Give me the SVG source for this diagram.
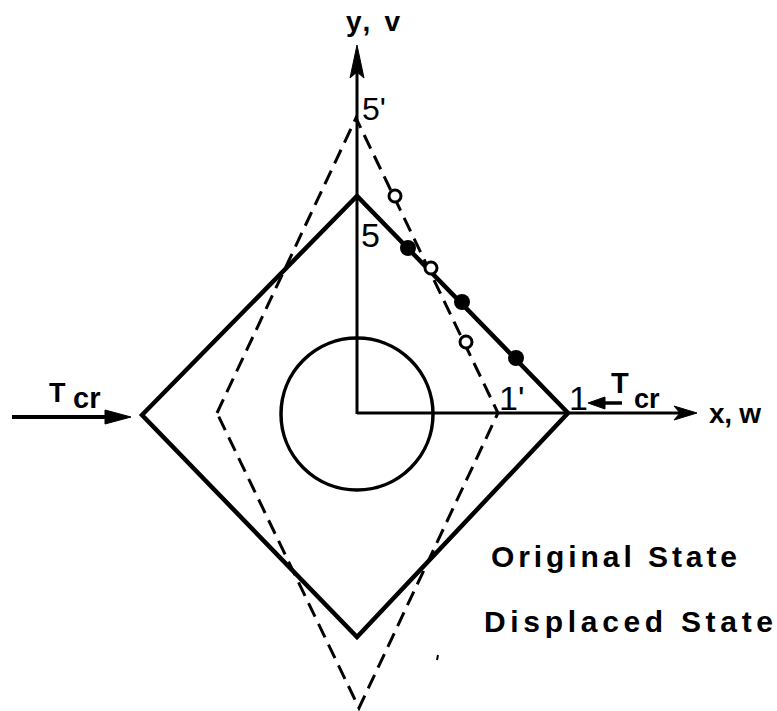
<svg xmlns="http://www.w3.org/2000/svg" width="777" height="711" viewBox="0 0 777 711">
<style>
.solid{fill:none;stroke:#000;stroke-width:4.5;stroke-linejoin:miter}
.dash{fill:none;stroke:#000;stroke-width:3;stroke-dasharray:15 8}
.axis{fill:none;stroke:#000;stroke-width:3}
.lbl{font-family:"Liberation Sans",Arial,sans-serif;font-weight:bold;fill:#000}
.num{font-family:"Liberation Sans",Arial,sans-serif;fill:#000}
.open{fill:#fff;stroke:#000;stroke-width:3}
.fill{fill:#000}
.head{fill:#000;stroke:#000;stroke-width:1}
</style>
<rect width="777" height="711" fill="#fff"/>
<g id="displaced-state">
<polygon class="dash" points="217,413 356,118 498,413 359,708"/>
</g>
<g id="original-state">
<polygon class="solid" points="142,415 357,196 568,413 357,637"/>
</g>
<g id="circle">
<circle cx="357" cy="414" r="76" fill="none" stroke="#000" stroke-width="3.5"/>
</g>
<g id="connectors">
<line class="axis" x1="357" y1="414" x2="357" y2="62"/>
<path class="head" d="M357,45 L350,78 L357,72 L364,78 Z"/>
<line class="axis" x1="357" y1="413" x2="686" y2="413"/>
<path class="head" d="M697,413 L674,406 L680,413 L674,420 Z"/>
<line x1="12" y1="417" x2="112" y2="417" stroke="#000" stroke-width="4"/>
<path class="head" d="M131,417 L105,410 L105,424 Z"/>
<line x1="600" y1="403" x2="622" y2="403" stroke="#000" stroke-width="3.5"/>
<path class="head" d="M588,403 L605,397 L605,409 Z"/>
</g>
<g id="points-displaced">
<circle class="open" cx="395" cy="196" r="6"/>
<circle class="open" cx="431" cy="268" r="6"/>
<circle class="open" cx="466" cy="342" r="6"/>
</g>
<g id="points-original">
<circle class="fill" cx="408" cy="248" r="8"/>
<circle class="fill" cx="462" cy="302" r="8"/>
<circle class="fill" cx="516" cy="358" r="8"/>
</g>
<g id="labels">
<text class="lbl" x="346" y="31" font-size="28" textLength="54" lengthAdjust="spacing">y, v</text>
<text class="lbl" x="709" y="423" font-size="28" textLength="52" lengthAdjust="spacing">x, w</text>
<text class="num" x="362" y="120" font-size="32">5'</text>
<text class="num" x="361" y="247" font-size="34">5</text>
<text class="num" x="499" y="410" font-size="34">1'</text>
<text class="num" x="569" y="410" font-size="34">1</text>
<text class="lbl" x="49" y="402" font-size="27">T</text>
<text class="lbl" x="73" y="408" font-size="29">cr</text>
<text class="lbl" x="611" y="393" font-size="29">T</text>
<text class="lbl" x="634" y="408" font-size="27">cr</text>
<text class="lbl" x="491" y="567" font-size="30" textLength="246" lengthAdjust="spacing">Original State</text>
<text class="lbl" x="484" y="632" font-size="30" textLength="289" lengthAdjust="spacing">Displaced State</text>
</g>
<line x1="438" y1="655" x2="437" y2="660" stroke="#000" stroke-width="2"/>
</svg>
